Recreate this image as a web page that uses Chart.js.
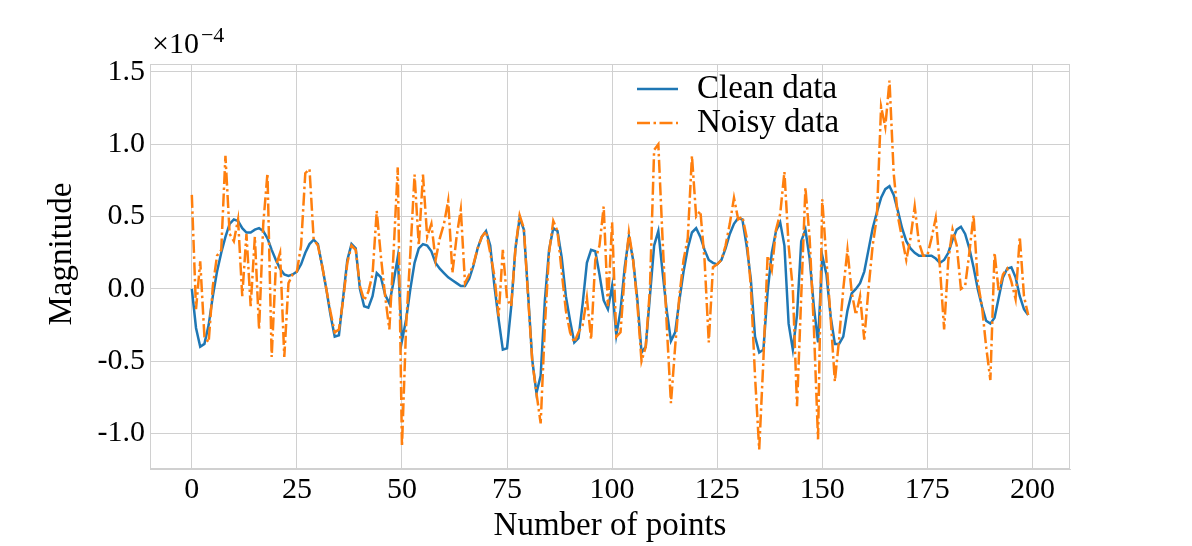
<!DOCTYPE html>
<html>
<head>
<meta charset="utf-8">
<script src="https://cdn.jsdelivr.net/npm/chart.js@4.4.1/dist/chart.umd.min.js"></script>
<style>
  html, body { margin: 0; padding: 0; background: #fff; }
  #wrap { width: 1192px; height: 546px; }
</style>
</head>
<body>
<div id="wrap"><canvas id="chart" width="1192" height="546"></canvas></div>
<script>
// values in units of 1e-4
const cleanData = [
  0.00, -0.27, -0.40, -0.38, -0.25, -0.05, 0.12, 0.25, 0.36, 0.45,
  0.48, 0.47, 0.42, 0.39, 0.39, 0.41, 0.42, 0.40, 0.35, 0.27,
  0.20, 0.14, 0.10, 0.09, 0.10, 0.12, 0.17, 0.25, 0.31, 0.34,
  0.31, 0.16, 0.00, -0.18, -0.33, -0.32, -0.06, 0.20, 0.31, 0.28,
  0.00, -0.12, -0.13, -0.05, 0.11, 0.08, -0.04, -0.10, 0.05, 0.22,
  -0.36, -0.21, 0.00, 0.18, 0.28, 0.31, 0.30, 0.26, 0.18, 0.14,
  0.11, 0.08, 0.06, 0.04, 0.02, 0.02, 0.07, 0.16, 0.28, 0.36,
  0.40, 0.30, 0.02, -0.21, -0.42, -0.41, -0.12, 0.28, 0.49, 0.41,
  -0.03, -0.49, -0.72, -0.60, -0.08, 0.27, 0.42, 0.40, 0.22, -0.05,
  -0.22, -0.37, -0.34, -0.10, 0.18, 0.27, 0.26, 0.10, -0.08, -0.14,
  0.02, -0.32, -0.15, 0.15, 0.36, 0.20, -0.07, -0.44, -0.40, -0.05,
  0.30, 0.40, 0.12, -0.15, -0.36, -0.30, -0.08, 0.12, 0.28, 0.39,
  0.42, 0.36, 0.27, 0.20, 0.18, 0.17, 0.20, 0.28, 0.38, 0.45,
  0.49, 0.48, 0.30, 0.07, -0.33, -0.44, -0.42, -0.02, 0.25, 0.40,
  0.46, 0.30, -0.24, -0.42, -0.18, 0.33, 0.41, 0.21, -0.12, -0.37,
  0.23, 0.10, -0.19, -0.38, -0.38, -0.33, -0.15, -0.03, 0.00, 0.04,
  0.12, 0.27, 0.42, 0.53, 0.63, 0.69, 0.71, 0.65, 0.54, 0.42,
  0.33, 0.28, 0.25, 0.23, 0.23, 0.23, 0.23, 0.21, 0.18, 0.20,
  0.25, 0.34, 0.41, 0.43, 0.38, 0.28, 0.15, 0.00, -0.12, -0.22,
  -0.24, -0.20, -0.06, 0.08, 0.14, 0.15, 0.08, -0.05, -0.14, -0.18
];
const noisyData = [
  0.65, -0.14, 0.19, -0.33, -0.37, 0.02, 0.23, 0.27, 0.92, 0.38,
  0.33, 0.48, -0.05, 0.38, -0.12, 0.36, -0.28, 0.45, 0.80, -0.47,
  0.16, 0.25, -0.47, 0.04, 0.10, 0.12, 0.30, 0.80, 0.83, 0.34,
  0.30, 0.16, 0.00, -0.16, -0.30, -0.28, -0.08, 0.18, 0.30, 0.27,
  0.02, -0.08, -0.02, 0.10, 0.54, 0.22, -0.05, -0.28, 0.25, 0.84,
  -1.09, -0.25, 0.25, 0.79, 0.30, 0.79, 0.36, 0.45, 0.20, 0.35,
  0.45, 0.61, 0.11, 0.36, 0.55, 0.04, 0.10, 0.17, 0.28, 0.36,
  0.40, 0.25, 0.09, -0.19, 0.27, -0.07, -0.12, 0.28, 0.51, 0.42,
  -0.05, -0.50, -0.72, -0.93, -0.26, 0.25, 0.47, 0.40, 0.12, -0.15,
  -0.30, -0.37, -0.30, -0.25, -0.06, -0.35, 0.20, 0.30, 0.57, -0.12,
  0.46, -0.33, -0.30, 0.10, 0.39, 0.20, -0.10, -0.50, -0.40, 0.00,
  0.96, 1.00, 0.35, -0.25, -0.79, -0.40, -0.05, 0.20, 0.35, 0.92,
  0.50, 0.54, 0.20, -0.37, 0.15, 0.17, 0.20, 0.30, 0.45, 0.63,
  0.48, 0.50, 0.36, 0.02, -0.60, -1.11, -0.49, 0.23, 0.13, 0.41,
  0.52, 0.81, 0.30, 0.00, -0.81, -0.05, 0.70, 0.35, -0.26, -1.04,
  0.62, 0.20, -0.20, -0.64, -0.35, 0.00, 0.27, -0.02, -0.18, -0.05,
  -0.35, 0.00, 0.30, 0.50, 1.26, 1.12, 1.44, 0.80, 0.50, 0.35,
  0.20, 0.35, 0.57, 0.32, 0.23, 0.23, 0.35, 0.49, 0.15, -0.28,
  0.20, 0.41, 0.30, 0.00, 0.02, 0.25, 0.51, 0.05, -0.12, -0.40,
  -0.63, 0.25, -0.02, 0.10, 0.14, 0.05, -0.07, 0.36, -0.05, -0.18
];
const pointIndex = cleanData.map((_, i) => i);
const seriesLabels = ["Clean data", "Noisy data"];
const xTicks = [0, 25, 50, 75, 100, 125, 150, 175, 200];
const yTicks = [-1.0, -0.5, 0.0, 0.5, 1.0, 1.5];

const SERIF = "'Liberation Serif', 'Times New Roman', serif";
const GRID = "#d0d0d0";

const frame = {
  id: "frame",
  afterDraw(chart) {
    const { ctx, chartArea: a } = chart;
    ctx.save();
    ctx.strokeStyle = GRID;
    ctx.lineWidth = 1;
    ctx.strokeRect(a.left + 0.5, a.top + 0.5, a.right - a.left - 1, a.bottom - a.top - 1);

    // offset text x10^-4
    ctx.fillStyle = "#000";
    ctx.textBaseline = "alphabetic";
    ctx.font = "30px " + SERIF;
    ctx.fillText("\u00d710", 152, 53);
    const w = ctx.measureText("\u00d710").width;
    ctx.font = "22px " + SERIF;
    ctx.fillText("\u22124", 152 + w + 2, 42);

    // y axis title
    ctx.save();
    ctx.translate(62, 254);
    ctx.rotate(-Math.PI / 2);
    ctx.font = "33px " + SERIF;
    ctx.textAlign = "center";
    ctx.textBaseline = "middle";
    ctx.fillText("Magnitude", 0, 0);
    ctx.restore();

    // legend
    const rows = [89, 123];
    chart.data.datasets.forEach((ds, i) => {
      const y = rows[i];
      ctx.strokeStyle = ds.borderColor;
      ctx.lineWidth = ds.borderWidth;
      ctx.setLineDash(ds.borderDash || []);
      ctx.beginPath();
      ctx.moveTo(637, y);
      ctx.lineTo(678, y);
      ctx.stroke();
      ctx.setLineDash([]);
      ctx.fillStyle = "#000";
      ctx.font = "33px " + SERIF;
      ctx.textBaseline = "middle";
      ctx.fillText(ds.label, 697, y);
    });
    ctx.restore();
  }
};

new Chart(document.getElementById("chart"), {
  type: "line",
  data: {
    datasets: [
      {
        label: seriesLabels[0],
        data: pointIndex.map((x, i) => ({ x, y: cleanData[i] })),
        borderColor: "#1f77b4",
        borderWidth: 2.5,
        pointRadius: 0,
        tension: 0,
        order: 2
      },
      {
        label: seriesLabels[1],
        data: pointIndex.map((x, i) => ({ x, y: noisyData[i] })),
        borderColor: "#ff7f0e",
        borderWidth: 2.5,
        borderDash: [13, 3.5, 2.5, 3.5],
        pointRadius: 0,
        tension: 0,
        order: 1
      }
    ]
  },
  options: {
    responsive: false,
    animation: false,
    devicePixelRatio: 1,
    layout: { padding: { top: 64, right: 122, left: 0, bottom: 0 } },
    plugins: { legend: { display: false }, tooltip: { enabled: false } },
    scales: {
      x: {
        type: "linear",
        min: -9.95,
        max: 208.95,
        afterBuildTicks: s => { s.ticks = xTicks.map(v => ({ value: v })); },
        afterFit: s => { s.height = 77; },
        grid: { color: GRID, drawTicks: false },
        border: { color: GRID },
        ticks: { color: "#000", font: { family: SERIF, size: 30 }, padding: 3, maxRotation: 0 },
        title: { display: true, text: "Number of points", color: "#000", font: { family: SERIF, size: 33 }, padding: { top: 0, bottom: 0 } }
      },
      y: {
        type: "linear",
        min: -1.245,
        max: 1.555,
        afterBuildTicks: s => { s.ticks = yTicks.map(v => ({ value: v })); },
        afterFit: s => { s.width = 150; },
        grid: { color: GRID, drawTicks: false },
        border: { color: GRID },
        ticks: { color: "#000", font: { family: SERIF, size: 30 }, padding: 5, callback: v => v.toFixed(1) }
      }
    }
  },
  plugins: [frame]
});
</script>
</body>
</html>
